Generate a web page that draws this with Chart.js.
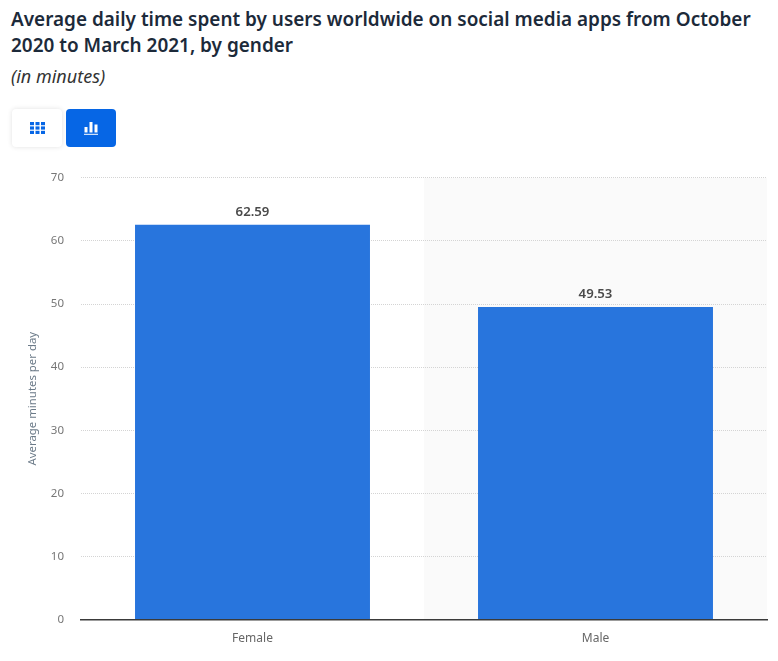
<!DOCTYPE html>
<html lang="en">
<head>
<meta charset="utf-8">
<title>Average daily time spent on social media apps by gender</title>
<script src="https://cdn.jsdelivr.net/npm/chart.js"></script>
<style>
    html, body { margin: 0; padding: 0; background: #fff; }
    body { width: 778px; height: 661px; position: relative; overflow: hidden; font-family: 'Noto Sans', sans-serif; }
    h1 { position: absolute; left: 11px; top: 6px; width: 760px; margin: 0; font-size: 18.95px; line-height: 26px; font-weight: 600; color: #1c2a3a; }
    #sub { position: absolute; left: 11px; top: 64px; font-size: 18px; line-height: 24px; font-style: italic; color: #333; }
    .btn { position: absolute; top: 109px; width: 50px; height: 38px; border-radius: 4px; display: flex; align-items: center; justify-content: center; }
    #btn-table { left: 12px; background: #fff; box-shadow: 0 0 5px rgba(0,0,0,0.12); }
    #btn-chart { left: 66px; background: #0666e5; }
    #wrap { position: absolute; left: 0; top: 154px; width: 778px; height: 507px; }
</style>
</head>
<body>
<h1>Average daily time spent by users worldwide on social media apps from October 2020 to March 2021, by gender</h1>
<div id="sub">(in minutes)</div>
<div class="btn" id="btn-table">
    <svg width="15" height="12" viewBox="0 0 15 12" fill="#0666e5">
        <rect x="0" y="0" width="4" height="3.2"/><rect x="5.5" y="0" width="4" height="3.2"/><rect x="11" y="0" width="4" height="3.2"/>
        <rect x="0" y="4.4" width="4" height="3.2"/><rect x="5.5" y="4.4" width="4" height="3.2"/><rect x="11" y="4.4" width="4" height="3.2"/>
        <rect x="0" y="8.8" width="4" height="3.2"/><rect x="5.5" y="8.8" width="4" height="3.2"/><rect x="11" y="8.8" width="4" height="3.2"/>
    </svg>
</div>
<div class="btn" id="btn-chart">
    <svg width="14" height="14" viewBox="0 0 14 14" fill="#fff">
        <rect x="0.5" y="6" width="3" height="5.5"/><rect x="5.5" y="1" width="3" height="10.5"/><rect x="10.5" y="3.5" width="3" height="8"/>
        <rect x="0" y="12.8" width="14" height="1"/>
    </svg>
</div>
<div id="wrap"><canvas id="chart"></canvas></div>

<script>
    const categories = ['Female', 'Male'];
    const minutes = [62.59, 49.53];
    const yTicks = [0, 10, 20, 30, 40, 50, 60, 70];
    const yTitle = 'Average minutes per day';

    const fontName = "'Noto Sans', sans-serif";

    // grey band behind every second category
    const bandPlugin = {
        id: 'bands',
        beforeDraw(chart) {
            const { ctx, chartArea, scales } = chart;
            const half = (scales.x.getPixelForValue(1) - scales.x.getPixelForValue(0)) / 2;
            ctx.save();
            ctx.fillStyle = '#fafafa';
            categories.forEach((c, i) => {
                if (i % 2 === 1) {
                    const mid = scales.x.getPixelForValue(i);
                    ctx.fillRect(mid - half, chartArea.top, half * 2, chartArea.height);
                }
            });
            ctx.restore();
        }
    };

    // value on top of the bars
    const labelPlugin = {
        id: 'barLabels',
        afterDatasetsDraw(chart) {
            const { ctx } = chart;
            ctx.save();
            ctx.font = '600 13.2px ' + fontName;
            ctx.fillStyle = '#4a4a4a';
            ctx.textAlign = 'center';
            ctx.textBaseline = 'bottom';
            chart.getDatasetMeta(0).data.forEach((bar, i) => {
                ctx.fillText(minutes[i].toFixed(2), bar.x, bar.y - 6);
            });
            ctx.restore();
        }
    };

    new Chart(document.getElementById('chart'), {
        type: 'bar',
        data: {
            labels: categories,
            datasets: [{
                data: minutes,
                backgroundColor: '#2875dd',
                categoryPercentage: 0.685,
                barPercentage: 1
            }]
        },
        options: {
            responsive: true,
            maintainAspectRatio: false,
            animation: false,
            layout: { padding: { top: 11, right: 11 } },
            plugins: { legend: { display: false }, tooltip: { enabled: false } },
            scales: {
                x: {
                    afterFit(scale) { scale.height = 41.5; },
                    grid: { display: false, drawTicks: false },
                    border: { display: true, color: '#3a3a3a', width: 1.5 },
                    ticks: { color: '#666', padding: 12, font: { family: fontName, size: 12 } }
                },
                y: {
                    min: 0,
                    max: 70,
                    afterFit(scale) { scale.width = 81; },
                    afterBuildTicks(scale) { scale.ticks = yTicks.map(v => ({ value: v })); },
                    grid: { color: '#d4d4d4', drawTicks: false, lineWidth: 1 },
                    border: { display: false, dash: [1, 1] },
                    title: { display: true, text: yTitle, color: '#6b7a88', padding: { top: 26, bottom: 0 }, font: { family: fontName, size: 11.4 } },
                    ticks: { color: '#777', padding: 17, font: { family: fontName, size: 11.5 } }
                }
            }
        },
        plugins: [bandPlugin, labelPlugin]
    });
</script>
</body>
</html>
